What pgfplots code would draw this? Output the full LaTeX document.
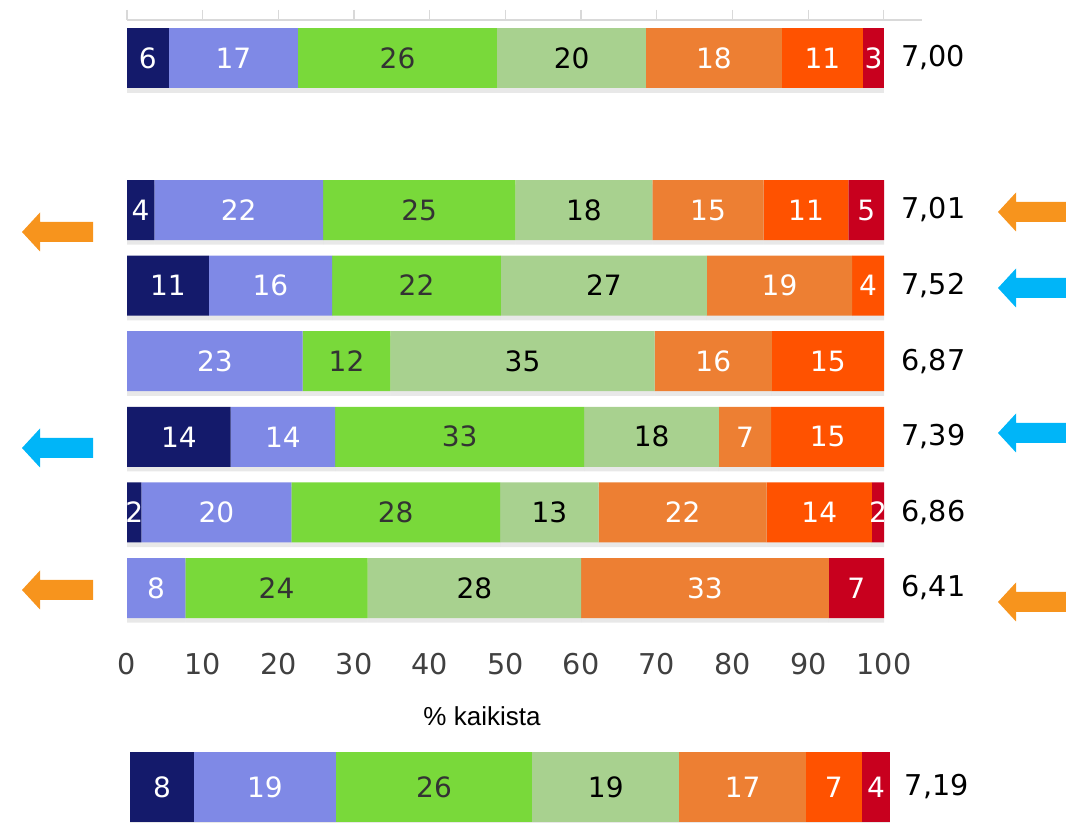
\documentclass[border=0pt]{standalone}
\usepackage{fontspec}
\setmainfont{DejaVu Sans}
\newfontfamily\arialfont{Liberation Sans}
\usepackage{pgfplots}
\pgfplotsset{compat=1.18}
\usepackage{pgfplotstable}
\usetikzlibrary{shadows}

\definecolor{cNavy}{HTML}{141A6B}
\definecolor{cPeri}{HTML}{7F89E6}
\definecolor{cGreen}{HTML}{79D93A}
\definecolor{cLgreen}{HTML}{A8D18F}
\definecolor{cOrange}{HTML}{ED7F33}
\definecolor{cRedor}{HTML}{FF5200}
\definecolor{cCrimson}{HTML}{C8001E}
\definecolor{arrowor}{HTML}{F7941D}
\definecolor{arrowbl}{HTML}{00B5F8}
\definecolor{tickgray}{HTML}{404040}
\definecolor{axisgray}{HTML}{D9D9D9}

\newcommand\barfont{\fontsize{21}{24}\selectfont}
\newcommand\valfont{\fontsize{21.5}{24}\selectfont}

% widths (labels are the rounded values)
\pgfplotstableread{
row a b c d e f g
1 3.6 22.3 25.4 18.1 14.7 11.2 4.7
2 10.8 16.3 22.3 27.2 19.2 4.2 0
3 0 23.2 11.6 34.9 15.5 14.8 0
4 13.7 13.8 32.9 17.8 6.9 14.9 0
5 1.9 19.8 27.6 13.0 22.2 13.9 1.6
6 0 7.7 24.1 28.2 32.7 0 7.3
}\maindata

\pgfplotstableread{
row a b c d e f g
0.5 5.5 17.1 26.3 19.7 17.9 10.8 2.7
}\topdata

\pgfplotstableread{
row a b c d e f g
0.5 8.4 18.7 25.8 19.4 16.6 7.4 3.7
}\botdata

% stacked bars already put the label in the middle of its segment
\newcommand\seglabel{%
  \ifdim\pgfplotspointmeta pt<0.1pt\else
    \pgfmathprintnumber[fixed,precision=0]{\pgfplotspointmeta}%
  \fi}

\pgfplotsset{
  stackbars/.style={
    xbar stacked, scale only axis, clip=false, enlargelimits=false,
    xmin=0, ymin=0, ymax=1,
    point meta=explicit symbolic,
    nodes near coords={\seglabel},
    every node near coord/.append style={anchor=center, font=\barfont, inner sep=0pt},
    every axis plot/.append style={draw=none,
      drop shadow={shadow xshift=0pt, shadow yshift=-3.5pt, opacity=0.18}},
    /pgf/number format/assume math mode=true,
  },
}

% one segment series: table, fill, label colour, column
\newcommand\seg[4]{\addplot[fill=#2, every node near coord/.append style={text=#3}]
  table[x=#4, y=row, meta=#4] {#1};}
\newcommand\allsegs[1]{%
  \seg{#1}{cNavy}{white}{a}
  \seg{#1}{cPeri}{white}{b}
  \seg{#1}{cGreen}{black!80}{c}
  \seg{#1}{cLgreen}{black}{d}
  \seg{#1}{cOrange}{white}{e}
  \seg{#1}{cRedor}{white}{f}
  \seg{#1}{cCrimson}{white}{g}}

\newcommand\arrowL[4]{%
  \fill[#4] (#1,#3) -- ++(18,-19.5) -- ++(0,9.5) -- (#2,#3-10) -- (#2,#3+10)
    -- (#1+18,#3+10) -- ++(0,9.5) -- cycle;}

\begin{document}
\begin{tikzpicture}
\path[use as bounding box] (0,0) rectangle (799.5pt,617.25pt);

% top bar with its scale
\begin{axis}[stackbars, at={(95.25pt,545.25pt)}, anchor=south west,
  width=595.9pt, height=57pt, bar width=45pt, xmax=105,
  axis x line*=top, axis y line=none,
  x axis line style={-, draw=axisgray, line width=1.5pt},
  xtick={0,10,...,100}, xticklabels={}, tick align=outside,
  major tick length=7.5pt, tick style={draw=axisgray, line width=0.8pt},
  ytick=\empty]
\allsegs{\topdata}
\node[anchor=west, font=\valfont, inner sep=0pt, xshift=13pt] at (axis cs:100,0.5) {7,00};
\end{axis}

% main block
\begin{axis}[stackbars, at={(95.25pt,147.9pt)}, anchor=south west,
  width=567.75pt, height=340.2pt, bar width=45pt,
  xmax=100, ymin=0.5, ymax=6.5, y dir=reverse,
  axis line style={draw=none}, tick style={draw=none}, major tick length=0pt,
  xtick={0,10,...,100},
  xticklabel style={anchor=north, inner sep=0pt, yshift=-20pt, text=tickgray, font=\valfont},
  ytick={1,...,6},
  yticklabels={{7,01},{7,52},{6,87},{7,39},{6,86},{6,41}},
  yticklabel pos=right,
  yticklabel style={anchor=west, inner sep=0pt, xshift=13pt, font=\valfont}]
\allsegs{\maindata}
\end{axis}

% overall bar at the bottom
\begin{axis}[stackbars, at={(97.5pt,0.75pt)}, anchor=south west,
  width=570pt, height=52.5pt, bar width=52.5pt, xmax=100,
  axis line style={draw=none}, tick style={draw=none}, major tick length=0pt,
  xtick=\empty, ytick=\empty]
\allsegs{\botdata}
\node[anchor=west, font=\valfont, inner sep=0pt, xshift=11pt] at (axis cs:100,0.5) {7,19};
\end{axis}

\begin{scope}[x=0.75pt, y=-0.75pt, shift={(0pt,617.25pt)}]
\node[font=\arialfont\fontsize{19.5}{22}\selectfont] at (482,716) {\% kaikista};
\arrowL{22}{93}{232}{arrowor}
\arrowL{22}{93}{448}{arrowbl}
\arrowL{22}{93}{590}{arrowor}
\arrowL{998}{1090}{212}{arrowor}
\arrowL{998}{1090}{288}{arrowbl}
\arrowL{998}{1090}{433}{arrowbl}
\arrowL{998}{1090}{602}{arrowor}
\end{scope}
\end{tikzpicture}
\end{document}
